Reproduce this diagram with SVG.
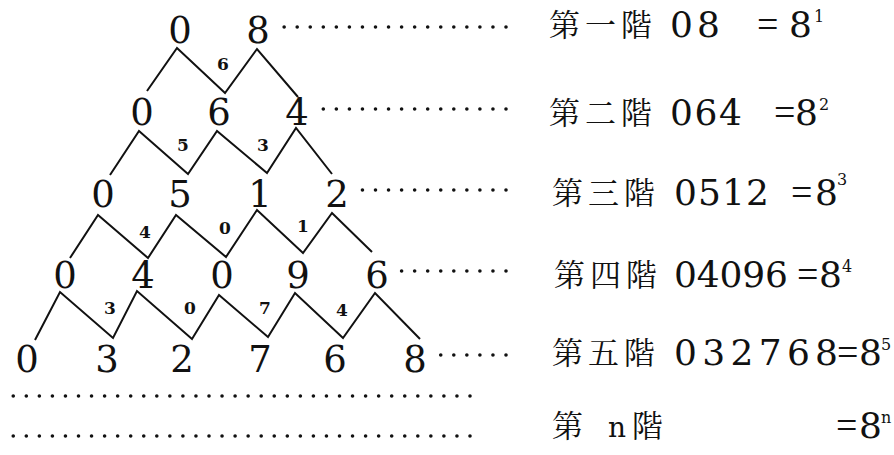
<svg xmlns="http://www.w3.org/2000/svg" width="894" height="455" viewBox="0 0 894 455">
<style>
.d{font-family:"DejaVu Serif","Liberation Serif",serif;font-size:37px;fill:#111;text-anchor:middle}
.s{font-family:"DejaVu Serif","Liberation Serif",serif;font-size:17px;font-weight:bold;fill:#111;text-anchor:middle}
.cj{font-family:"Noto Serif CJK TC","Noto Sans CJK TC",serif;font-size:31px;fill:#111;letter-spacing:5px}
.r{font-family:"DejaVu Serif","Liberation Serif",serif;font-size:36px;fill:#111}
.eq{font-family:"Liberation Serif","Times New Roman",serif;font-size:38px;fill:#111}
.sup{font-family:"DejaVu Serif","Liberation Serif",serif;font-size:16px;fill:#111}
.zz{fill:none;stroke:#111;stroke-width:2;stroke-linejoin:miter}
.dot{fill:none;stroke:#111;stroke-width:3.6;stroke-linecap:round;stroke-dasharray:0 13.05}
</style>
<rect width="894" height="455" fill="#fff"/>
<g id="connectors">
<polyline class="zz" points="147,91 177,48 225,93 257,49 298,97"/>
<polyline class="zz" points="110,175 139,131 188,174 217,131 267,173 296,128 332,174"/>
<polyline class="zz" points="70,258 98,215 148,258 176,215 226,257 257,210 303,253 332,213 372,252"/>
<polyline class="zz" points="35,340 60,292 113,338 137,291 192,339 219,295 268,337 295,293 343,338 375,293 420,339"/>
<line class="dot" x1="506" y1="27" x2="282" y2="27"/>
<line class="dot" x1="506" y1="109" x2="322" y2="109"/>
<line class="dot" x1="506" y1="190" x2="362" y2="190"/>
<line class="dot" x1="506" y1="271" x2="401" y2="271"/>
<line class="dot" x1="506" y1="355" x2="440" y2="355"/>
<line class="dot" x1="470" y1="396" x2="12" y2="396"/>
<line class="dot" x1="470" y1="436" x2="12" y2="436"/>
</g>
<g id="row1">
<g id="n1-1"><text class="d" x="180" y="43">0</text></g>
<g id="n1-2"><text class="d" x="258" y="43">8</text></g>
</g>
<g id="row2">
<g id="n2-1"><text class="d" x="142" y="125">0</text></g>
<g id="n2-2"><text class="d" x="219" y="125">6</text></g>
<g id="n2-3"><text class="d" x="297" y="125">4</text></g>
</g>
<g id="row3">
<g id="n3-1"><text class="d" x="103" y="207">0</text></g>
<g id="n3-2"><text class="d" x="180" y="207">5</text></g>
<g id="n3-3"><text class="d" x="260" y="207">1</text></g>
<g id="n3-4"><text class="d" x="337" y="207">2</text></g>
</g>
<g id="row4">
<g id="n4-1"><text class="d" x="65" y="288">0</text></g>
<g id="n4-2"><text class="d" x="143" y="288">4</text></g>
<g id="n4-3"><text class="d" x="222" y="288">0</text></g>
<g id="n4-4"><text class="d" x="298" y="288">9</text></g>
<g id="n4-5"><text class="d" x="377" y="288">6</text></g>
</g>
<g id="row5">
<g id="n5-1"><text class="d" x="27" y="372">0</text></g>
<g id="n5-2"><text class="d" x="107" y="372">3</text></g>
<g id="n5-3"><text class="d" x="182" y="372">2</text></g>
<g id="n5-4"><text class="d" x="260" y="372">7</text></g>
<g id="n5-5"><text class="d" x="335" y="372">6</text></g>
<g id="n5-6"><text class="d" x="415" y="372">8</text></g>
</g>
<g id="carries">
<text class="s" x="223" y="70">6</text>
<text class="s" x="183" y="151">5</text>
<text class="s" x="263" y="151">3</text>
<text class="s" x="145" y="238">4</text>
<text class="s" x="225" y="234">0</text>
<text class="s" x="303" y="232">1</text>
<text class="s" x="110" y="314">3</text>
<text class="s" x="190" y="314">0</text>
<text class="s" x="265" y="314">7</text>
<text class="s" x="342" y="316">4</text>
</g>
<g id="label1">
<text class="cj" x="549" y="36">第一階</text>
<text class="r" x="670" y="37" textLength="50" lengthAdjust="spacing">08</text>
<text class="eq" x="757" y="37">=</text>
<text class="r" x="789" y="37">8</text>
<text class="sup" x="814" y="22">1</text>
</g>
<g id="label2">
<text class="cj" x="549" y="124">第二階</text>
<text class="r" x="670" y="125" textLength="72" lengthAdjust="spacing">064</text>
<text class="eq" x="774" y="125">=</text>
<text class="r" x="795" y="125">8</text>
<text class="sup" x="819" y="110">2</text>
</g>
<g id="label3">
<text class="cj" x="552" y="204">第三階</text>
<text class="r" x="674" y="205" textLength="95" lengthAdjust="spacing">0512</text>
<text class="eq" x="791" y="205">=</text>
<text class="r" x="815" y="205">8</text>
<text class="sup" x="837" y="185">3</text>
</g>
<g id="label4">
<text class="cj" x="554" y="286">第四階</text>
<text class="r" x="674" y="287" textLength="114" lengthAdjust="spacing">04096</text>
<text class="eq" x="797" y="287">=</text>
<text class="r" x="819" y="287">8</text>
<text class="sup" x="842" y="272">4</text>
</g>
<g id="label5">
<text class="cj" x="552" y="364">第五階</text>
<text class="r" x="674" y="365" textLength="164" lengthAdjust="spacing">032768</text>
<text class="eq" x="837" y="365">=</text>
<text class="r" x="859" y="365">8</text>
<text class="sup" x="881" y="350">5</text>
</g>
<g id="labeln">
<text class="cj" x="552" y="437">第</text>
<text class="r" x="608" y="437" style="font-size:28px">n</text>
<text class="cj" x="632" y="437">階</text>
<text class="eq" x="836" y="438">=</text>
<text class="r" x="859" y="438">8</text>
<text class="sup" x="881" y="423">n</text>
</g>
</svg>
